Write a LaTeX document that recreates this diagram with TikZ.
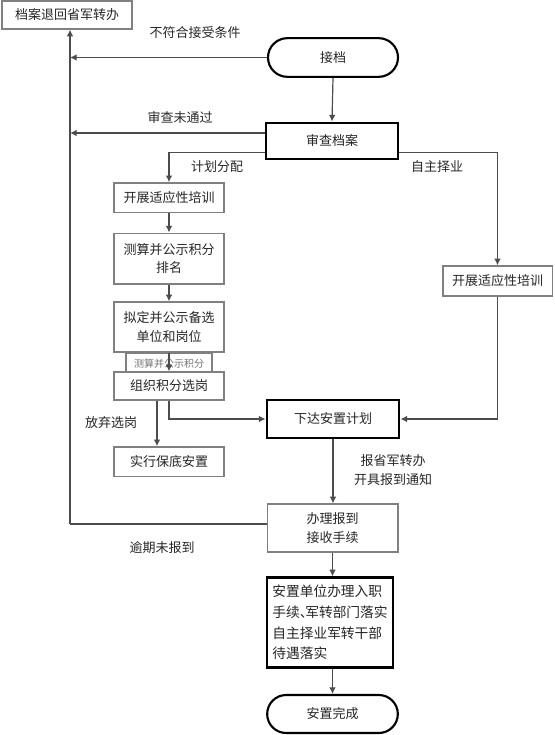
\documentclass[tikz,border=0pt]{standalone}
\usepackage{fontspec}
\setmainfont{Noto Sans CJK SC}
\usetikzlibrary{arrows.meta,calc,shapes.misc}
\begin{document}
\begin{tikzpicture}[x=0.75pt,y=-0.75pt,
  every node/.style={font=\fontsize{9.75}{14}\selectfont, text=black!85},
  thinbox/.style={draw=black!50, line width=1pt, fill=white, inner sep=0pt, align=center},
  thickbox/.style={draw=black, line width=2.2pt, fill=white, inner sep=0pt, align=center},
  stad/.style={draw=black, line width=1.6pt, fill=white, rounded rectangle, inner sep=0pt},
  conn/.style={draw=black!70, line width=0.9pt},
  arr/.style={conn, -{Latex[length=5pt,width=5pt]}},
  lbl/.style={inner sep=0pt, align=center}
]
\useasboundingbox (0,0) rectangle (554,735);

% nodes
\node[thinbox, minimum width=97.5pt, minimum height=21pt] (ret) at (67,15) {档案退回省军转办};
\node[stad, minimum width=97.5pt, minimum height=29pt] (jd) at (333,57.5) {接档};
\node[thickbox, minimum width=99pt, minimum height=27pt] (sc) at (332,141) {审查档案};
\node[thinbox, minimum width=82.5pt, minimum height=22pt] (pxa) at (169,197.5) {开展适应性培训};
\node[thinbox, minimum width=82.5pt, minimum height=38pt] (cs) at (169,258.5) {测算并公示积分\\排名};
\node[thinbox, minimum width=82.5pt, minimum height=37.5pt] (nd) at (169,327) {拟定并公示备选\\单位和岗位};
\node[thinbox, minimum width=64.5pt, minimum height=15pt, font=\fontsize{7.5}{9}\selectfont, text=black!55, anchor=north] (sm) at (169,353) {测算并公示积分};
\node[thinbox, minimum width=82.5pt, minimum height=21pt] (zz) at (169,386) {组织积分选岗};
\node[thinbox, minimum width=82.5pt, minimum height=22pt] (bd) at (169,461.5) {实行保底安置};
\node[thinbox, minimum width=82pt, minimum height=22.5pt] (pxb) at (497.5,281) {开展适应性培训};
\node[thickbox, minimum width=99pt, minimum height=28.5pt] (xd) at (333,419) {下达安置计划};
\node[thinbox, minimum width=98pt, minimum height=36pt] (bl) at (332.5,528) {办理报到\\接收手续};
\node[thickbox, minimum width=94.5pt, minimum height=67pt, align=left, font=\fontsize{10.3}{15.5}\selectfont] (az) at (330,622.5) {安置单位办理入职\\手续、\kern-0.6em 军转部门落实\\自主择业军转干部\\待遇落实};
\node[stad, minimum width=98pt, minimum height=28.5pt] (wc) at (332.5,714) {安置完成};

% labels
\node[lbl] (l1) at (195,33) {不符合接受条件};
\node[lbl] (l2) at (180,118) {审查未通过};
\node[lbl] (l3) at (217,167) {计划分配};
\node[lbl] (l4) at (437,167) {自主择业};
\node[lbl] (l5) at (111,423) {放弃选岗};
\node[lbl] (l6) at (393,470) {报省军转办\\开具报到通知};
\node[lbl] (l7) at (162,548) {逾期未报到};

% coordinates
\coordinate (cb) at (70,524);
\coordinate (cj) at (70,57.5);
\coordinate (cs1) at (70,133);
\coordinate (scl) at ($(sc.west)+(0,11.5)$);
\coordinate (scr) at ($(sc.east)+(0,11.5)$);
\coordinate (scu) at ($(sc.west)+(0,-8)$);
\coordinate (zzl) at ($(zz.south)+(-12,0)$);

% connectors
\draw[arr] (jd.south) -- (sc.north);
\draw[arr] (jd.west) -- (cj);
\draw[arr] (scu) -- (cs1);
\draw[conn] (bl.west |- cb) -- (cb);
\draw[arr] (cb) -- (cb |- ret.south);
\draw[arr] (scl) -| (pxa.north);
\draw[arr] (scr) -| (pxb.north);
\draw[arr] (pxa.south) -- (cs.north);
\draw[arr] (cs.south) -- (nd.north);
\draw[arr] (nd.south) -- (zz.north);
\draw[arr] (zzl) -- (zzl |- bd.north);
\draw[arr] (zz.south) |- (xd.west);
\draw[arr] (pxb.south) |- (xd.east);
\draw[arr] (xd.south) -- (xd.south |- bl.north);
\draw[arr] (bl.south) -- (bl.south |- az.north);
\draw[arr] (bl.south |- az.south) -- (bl.south |- wc.north);
\end{tikzpicture}
\end{document}
